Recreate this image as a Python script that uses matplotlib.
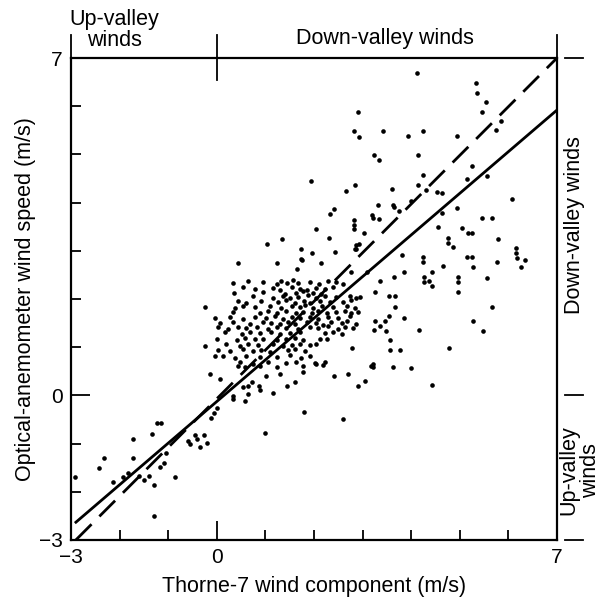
import matplotlib
matplotlib.use("Agg")
import matplotlib.pyplot as plt
import matplotlib.transforms as mtransforms

plt.rcParams['font.family'] = ['Liberation Sans', 'DejaVu Sans']

# axis range and labelled ticks
x_range = [-3, 7]
y_range = [-3, 7]
major_ticks = [-3, 0, 7]
minor_ticks = [-2, -1, 1, 2, 3, 4, 5, 6]

# up-valley / weak wind points (lower left)
low_x = [-2.92, -2.42, -2.32, -2.14, -1.72, -1.72, -1.93, -1.83, -1.33, -1.23,
         -1.15, -1.6, -1.5, -1.4, -1.3, -1.17, -1.09, -1.05, -0.86, -1.3,
         -0.6, -0.56, -0.45, -0.41, -0.35, -0.27, -0.21, -0.12, -0.06, 0.0,
         0.33, 0.58, 0.54, 0.64, 0.72, 0.88]
low_y = [-1.69, -1.5, -1.3, -1.8, -0.9, -1.3, -1.69, -1.6, -0.8, -0.57,
         -0.57, -1.67, -1.76, -1.67, -1.86, -1.49, -1.4, -1.2, -1.69, -2.5,
         -0.95, -1.0, -0.82, -0.9, -1.07, -0.82, -0.99, -0.47, -0.36, -0.27,
         -0.08, -0.12, 0.17, 0.19, 0.27, 0.12]

# scattered points at higher wind speeds
spread_x = [4.12, 5.33, 5.35, 5.54, 5.46, 5.85, 5.74, 2.9, 2.82, 2.92,
            3.42, 3.93, 4.24, 4.94, 3.23, 3.34, 4.14, 5.25, 4.24, 5.15,
            5.56, 2.84, 3.6, 4.14, 4.3, 4.53, 4.63, 4.0, 6.07, 3.32,
            3.63, 3.65, 3.75, 3.19, 3.21, 2.82, 2.82, 2.82, 3.34, 3.03,
            4.55, 4.94, 4.63, 5.46, 5.66, 5.05, 5.17, 5.25, 4.76, 4.76,
            4.86, 5.79, 2.92, 2.84, 6.16, 6.16, 6.18, 6.34, 6.26, 3.81,
            4.24, 4.24, 5.15, 5.25, 5.77, 5.27, 4.65, 3.85, 4.43, 4.26,
            4.26, 4.37, 4.43, 4.96, 4.96, 5.56, 3.65, 3.36, 3.26, 3.54,
            3.67, 4.96, 2.95,
            3.67, 5.66, 3.54, 3.85, 3.26, 3.46, 3.36, 3.23, 3.48, 4.16,
            5.27, 5.48, 3.56, 3.56, 3.77, 4.78, 3.17, 3.63, 4.0, 4.43,
            1.94, 2.66, 2.41, 2.33, 2.04, 1.34, 1.03, 1.73, 2.43, 1.96,
            1.75, 1.24, 0.44, 2.14, 1.65, 2.76, 3.09, -0.25, -0.25, -0.14,
            2.78, 3.21, 3.21, 3.05, 2.19, 2.02, 2.31, 2.87, 2.87, 1.73,
            1.01, 1.3, 1.6, 1.77, 0.86, 1.15, 0.33, 0.64, 0.06, 1.44,
            2.41, 0.43, -0.04, 1.0, 1.8, 2.6, 2.7, 2.9]
spread_y = [6.69, 6.48, 6.27, 6.09, 5.88, 5.69, 5.5, 5.88, 5.49, 5.36,
            5.49, 5.38, 5.49, 5.38, 4.99, 4.88, 4.99, 4.76, 4.57, 4.49,
            4.55, 4.37, 4.28, 4.37, 4.26, 4.22, 4.2, 4.03, 4.07, 3.95,
            3.95, 3.91, 3.83, 3.74, 3.68, 3.64, 3.54, 3.45, 3.66, 3.37,
            3.49, 3.89, 3.78, 3.68, 3.68, 3.47, 3.37, 3.37, 3.27, 3.16,
            3.08, 3.24, 3.14, 3.04, 3.06, 2.95, 2.85, 2.81, 2.66, 2.91,
            2.87, 2.77, 2.87, 2.87, 2.77, 2.66, 2.68, 2.56, 2.56, 2.46,
            2.35, 2.37, 2.27, 2.46, 2.35, 2.44, 2.46, 2.37, 2.15, 2.06,
            2.06, 2.15, 2.04,
            1.83, 1.83, 1.65, 1.61, 1.54, 1.54, 1.44, 1.36, 1.34, 1.36,
            1.54, 1.34, 1.15, 0.94, 0.94, 0.98, 0.61, 0.59, 0.57, 0.22,
            4.45, 4.24, 3.87, 3.76, 3.45, 3.25, 3.14, 3.04, 2.98, 2.95,
            2.81, 2.75, 2.75, 2.75, 2.62, 2.56, 2.56, 1.83, 1.02, 0.44,
            0.98, 0.66, 0.58, 0.3, 0.63, 0.67, 3.26, 3.13, 3.04, 2.84,
            0.4, 0.44, 0.27, 0.48, 0.19, 0.06, -0.02, 0.02, 0.33, 0.19,
            0.4, 0.6, 0.81, -0.79, -0.35, -0.5, 0.45, 0.2]

# dense cluster of moderate down-valley winds
cluster_x = [0.34, 0.64, 0.95, 1.23, 1.33, 1.45, 1.56, 1.67, 1.91, 2.11, 2.29, 2.45, 2.6,
             0.54, 0.78, 1.16, 1.3, 1.54, 1.71, 1.85, 2.05, 2.22, 2.39,
             0.35, 0.95, 1.4, 1.63, 1.78, 1.98, 2.15,
             0.75, 1.16, 1.36, 1.5, 1.67, 1.88, 2.04, 2.22, 2.46, 2.74, 2.87,
             0.44, 0.61, 0.92, 1.26, 1.43, 1.6, 1.79, 1.91, 2.12, 2.32, 2.6, 2.77,
             0.37, 0.54, 0.78, 1.09, 1.33, 1.54, 1.71, 1.81, 1.98, 2.17, 2.39, 2.67, 2.84,
             0.34, 0.88, 1.06, 1.23, 1.43, 1.64, 1.78, 1.95, 2.09, 2.26, 2.46, 2.63, 2.77, 2.91,
             -0.04, 0.27, 0.54, 0.78, 1.02, 1.19, 1.36, 1.54, 1.71, 1.91, 2.09, 2.29, 2.5, 2.74,
             0.06, 0.34, 0.68, 0.95, 1.12, 1.3, 1.47, 1.6, 1.85, 2.05, 2.19, 2.36, 2.57, 2.67, 2.87,
             0.03, 0.23, 0.44, 0.61, 0.82, 1.06, 1.23, 1.43, 1.67, 1.91, 2.09, 2.29, 2.5, 2.63, 2.81,
             0.17, 0.51, 0.68, 0.88, 1.12, 1.3, 1.5, 1.71, 2.22, 2.39, 2.57,
             0.0, 0.41, 0.58, 0.78, 0.95, 1.23, 1.43, 1.6, 1.78, 2.12, 2.26,
             0.2, 0.47, 0.64, 0.85, 1.16, 1.36, 1.54, 1.71, 1.91, 2.05,
             0.03, 0.27, 0.54, 0.75, 0.92, 1.09, 1.47, 1.6, 1.81,
             0.13, 0.37, 0.61, 0.88, 1.23, 1.5, 1.74, 1.91,
             0.47, 0.75, 1.06, 1.43, 1.64, 2.05, 2.22,
             0.58, 0.88, 1.23, 1.78]
cluster_y = [2.33, 2.37, 2.35, 2.31, 2.38, 2.34, 2.39, 2.33, 2.36, 2.32, 2.38, 2.35, 2.31,
             2.24, 2.2, 2.23, 2.19, 2.25, 2.21, 2.18, 2.23, 2.2, 2.24,
             2.12, 2.15, 2.11, 2.13, 2.16, 2.12, 2.1,
             2.06, 2.03, 2.07, 2.02, 2.05, 2.08, 2.03, 2.06, 2.04, 2.07, 2.02,
             1.95, 1.92, 1.96, 1.93, 1.97, 1.91, 1.95, 1.92, 1.96, 1.93, 1.94, 1.97,
             1.82, 1.86, 1.83, 1.85, 1.81, 1.86, 1.83, 1.87, 1.82, 1.85, 1.83, 1.86, 1.81,
             1.74, 1.71, 1.75, 1.72, 1.76, 1.7, 1.74, 1.72, 1.75, 1.71, 1.73, 1.76, 1.7, 1.74,
             1.6, 1.63, 1.59, 1.62, 1.6, 1.64, 1.58, 1.62, 1.6, 1.63, 1.59, 1.62, 1.6, 1.64,
             1.5, 1.52, 1.49, 1.53, 1.5, 1.48, 1.52, 1.49, 1.53, 1.5, 1.47, 1.52, 1.5, 1.54, 1.49,
             1.41, 1.38, 1.42, 1.39, 1.41, 1.37, 1.42, 1.4, 1.38, 1.41, 1.39, 1.43, 1.38, 1.41, 1.4,
             1.31, 1.28, 1.32, 1.29, 1.31, 1.27, 1.3, 1.32, 1.29, 1.31, 1.28,
             1.18, 1.15, 1.19, 1.16, 1.18, 1.14, 1.17, 1.19, 1.15, 1.18, 1.16,
             1.06, 1.03, 1.07, 1.04, 1.06, 1.02, 1.05, 1.07, 1.04, 1.06,
             0.95, 0.92, 0.96, 0.93, 0.95, 0.91, 0.94, 0.96, 0.93,
             0.81, 0.78, 0.82, 0.79, 0.8, 0.83, 0.78, 0.81,
             0.69, 0.66, 0.7, 0.67, 0.69, 0.66, 0.7,
             0.59, 0.61, 0.58, 0.6]

# regression line and 1:1 line
fit_x = [-2.92, 7.0]
fit_y = [-2.65, 5.92]
one_x = [-2.9, 7.0]
one_y = [-3.0, 7.0]

fig = plt.figure(figsize=(6.04, 6.07), dpi=100)
ax = fig.add_axes([0.1175, 0.1104, 0.8046, 0.794])

for xs, ys in [(low_x, low_y), (spread_x, spread_y), (cluster_x, cluster_y)]:
    ax.scatter(xs, ys, s=11, c='black', linewidths=0, zorder=3)

ax.plot(fit_x, fit_y, color='black', lw=2.0, solid_capstyle='butt', zorder=4)
ax.plot(one_x, one_y, color='black', lw=2.0, dashes=(8, 4), zorder=4)

ax.set_xlim(x_range)
ax.set_ylim(y_range)
ax.set_xticks(major_ticks)
ax.set_yticks(major_ticks)
ax.set_xticks(minor_ticks, minor=True)
ax.set_yticks(minor_ticks, minor=True)
ax.tick_params(which='major', direction='in', length=14, width=1.3,
               labelsize=15, pad=6)
ax.tick_params(which='minor', direction='in', length=7, width=1.3)
for sp in ax.spines.values():
    sp.set_linewidth(1.6)

ax.set_xlabel('Thorne-7 wind component (m/s)', fontsize=15.5, labelpad=6)
ax.set_ylabel('Optical-anemometer wind speed (m/s)', fontsize=15.5, labelpad=2)

# top band: separators and captions
tx = mtransforms.blended_transform_factory(ax.transData, ax.transAxes)
for xv in major_ticks:
    y_lo = 0.954 if xv == 0 else 1.0
    ax.plot([xv, xv], [y_lo, 1.048], color='black', lw=1.3,
            transform=tx, clip_on=False)
ax.text(-2.1, 1.058, 'Up-valley\nwinds', transform=tx, ha='center',
        va='center', fontsize=15.5, linespacing=1.05)
ax.text(3.46, 1.041, 'Down-valley winds', transform=tx, ha='center',
        va='center', fontsize=15.5)

# right band: separators and captions
ty = mtransforms.blended_transform_factory(ax.transAxes, ax.transData)
for yv in major_ticks:
    ax.plot([1.016, 1.053], [yv, yv], color='black', lw=1.3,
            transform=ty, clip_on=False)
ax.text(1.037, 3.54, 'Down-valley winds', transform=ty, ha='center',
        va='center', rotation=90, fontsize=15.5)
ax.text(1.047, -1.55, 'Up-valley\nwinds', transform=ty, ha='center',
        va='center', rotation=90, fontsize=15.5, linespacing=1.0)

fig.savefig('out.png', dpi=100)
